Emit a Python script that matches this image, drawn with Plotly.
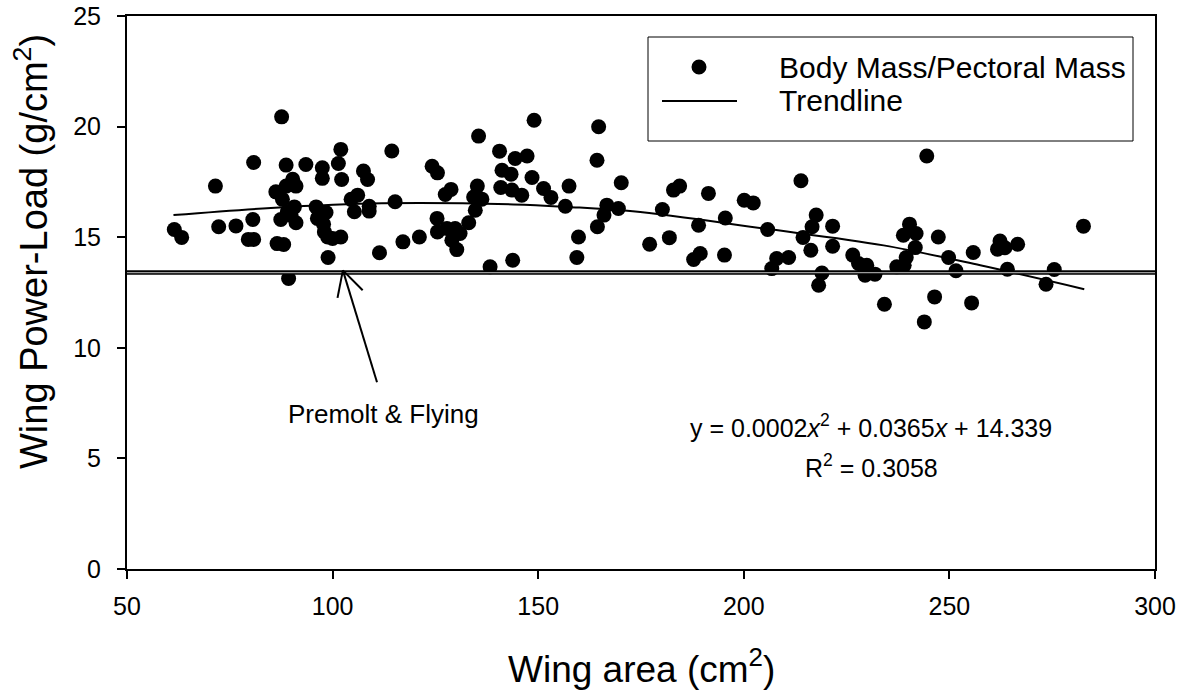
import math
import plotly.graph_objects as go

# ---- data ----
wing_area = [
    87.6, 80.8, 88.7, 93.5, 97.5, 102.0, 101.4, 97.5, 102.2, 107.5, 108.5, 71.5, 90.3, 91.1, 88.7,
    86.2, 87.8, 90.7, 104.5, 106.1, 105.3, 108.9, 108.9, 96.0, 98.4, 96.3, 89.0, 87.4, 91.1, 89.9,
    80.6, 61.5, 63.3, 72.3, 76.5, 79.5, 80.8, 86.5, 88.1, 98.0, 98.8, 100.0, 102.0, 98.9, 111.4,
    89.3, 97.8,
    114.4, 115.2, 117.1, 121.1, 124.2, 125.5, 127.4, 128.8, 125.4, 125.5, 127.8, 129.8, 131.0, 129.0,
    130.2, 133.1, 134.7, 134.3, 135.2, 136.3, 135.5, 138.3, 143.8, 140.6, 141.2, 143.4, 144.4, 147.3,
    148.5, 149.0, 140.9, 143.6, 146.0, 151.3, 153.1, 156.6, 157.5, 159.8, 159.4, 164.7, 164.3, 170.2,
    166.7, 166.0, 169.5, 164.4,
    184.4, 182.9, 191.4, 200.1, 202.3, 180.2, 189.0, 195.5, 205.8, 177.1, 181.9, 187.8, 189.4, 195.3,
    213.9, 217.6, 216.6, 214.4, 216.3, 221.6, 221.6, 206.8, 208.0, 210.9, 219.0, 218.2, 226.5, 227.9,
    229.9, 229.5, 231.9, 234.2,
    244.5, 240.3, 238.8, 241.9, 241.7, 239.5, 237.2, 239.0, 247.3, 249.8, 251.6, 255.8, 262.3, 261.7,
    263.5, 266.6, 264.1, 275.5, 273.5, 282.6, 246.4, 255.4, 243.9,
]
power_load = [
    20.44, 18.38, 18.26, 18.29, 18.14, 18.97, 18.33, 17.66, 17.61, 17.99, 17.61, 17.31, 17.62, 17.31, 17.31,
    17.05, 16.71, 16.37, 16.71, 16.90, 16.15, 16.40, 16.18, 16.37, 16.12, 15.85, 16.15, 15.80, 15.65, 16.00,
    15.80, 15.35, 14.99, 15.47, 15.51, 14.90, 14.90, 14.71, 14.67, 15.24, 15.01, 14.94, 15.01, 14.08, 14.30,
    13.13, 15.59,
    18.90, 16.60, 14.79, 15.01, 18.21, 17.91, 16.93, 17.16, 15.85, 15.24, 15.39, 15.39, 15.17, 14.86,
    14.44, 15.65, 16.22, 16.82, 17.31, 16.72, 19.57, 13.66, 13.96, 18.89, 18.03, 17.85, 18.56, 18.67,
    17.70, 20.29, 17.25, 17.13, 16.90, 17.20, 16.80, 16.40, 17.31, 15.01, 14.08, 19.99, 18.48, 17.46,
    16.45, 16.00, 16.30, 15.47,
    17.31, 17.13, 16.98, 16.67, 16.55, 16.25, 15.54, 15.87, 15.35, 14.68, 14.98, 13.99, 14.26, 14.19,
    17.55, 16.00, 15.47, 14.99, 14.41, 15.50, 14.59, 13.58, 14.04, 14.08, 13.38, 12.83, 14.19, 13.81,
    13.73, 13.28, 13.33, 11.97,
    18.67, 15.59, 15.09, 15.17, 14.53, 14.08, 13.66, 13.73, 15.01, 14.08, 13.48, 14.31, 14.83, 14.46,
    14.52, 14.68, 13.55, 13.54, 12.87, 15.50, 12.30, 12.03, 11.17,
]

trend_x = [61.3, 85.0, 112.0, 144.0, 157.0, 173.0, 205.0, 234.0, 257.5, 282.8]
trend_y = [16.00, 16.32, 16.53, 16.48, 16.37, 16.17, 15.39, 14.63, 13.73, 12.65]

premolt_level = 13.4
arrow_head = (102.5, 13.5)
arrow_tail = (110.8, 8.44)

x_ticks = [50, 100, 150, 200, 250, 300]
y_ticks = [0, 5, 10, 15, 20, 25]

series_names = ["Body Mass/Pectoral Mass", "Trendline"]
x_title = "Wing area (cm<sup>2</sup>)"
y_title = "Wing Power-Load (g/cm<sup>2</sup>)"
equation_text = "y = 0.0002<i>x</i><sup>2</sup> + 0.0365<i>x</i> + 14.339"
r2_text = "R<sup>2</sup> = 0.3058"
premolt_text = "Premolt &amp; Flying"

X_RANGE = [50, 300]
Y_RANGE = [0, 25]

W, H = 1185, 691
M_L, M_R, M_T, M_B = 127, 30, 16, 122
PW, PH = W - M_L - M_R, H - M_T - M_B

FONT = "Liberation Sans, Arial, Helvetica, sans-serif"


def paper_x(px):
    return (px - M_L) / PW


def paper_y(py):
    return (H - M_B - py) / PH


fig = go.Figure()

fig.add_trace(go.Scatter(
    x=wing_area, y=power_load, mode="markers", name=series_names[0],
    marker=dict(color="black", size=15, line=dict(width=0)),
    showlegend=False,
))
fig.add_trace(go.Scatter(
    x=trend_x, y=trend_y, mode="lines", name=series_names[1],
    line=dict(color="black", width=2, shape="spline", smoothing=1.0),
    showlegend=False,
))

# horizontal "Premolt & Flying" reference (double line)
fig.add_shape(type="line", xref="x", yref="y", x0=X_RANGE[0], x1=X_RANGE[1],
              y0=premolt_level, y1=premolt_level, line=dict(color="black", width=4.5))
fig.add_shape(type="line", xref="x", yref="y", x0=X_RANGE[0], x1=X_RANGE[1],
              y0=premolt_level, y1=premolt_level, line=dict(color="#9a9a9a", width=1.3))

# arrow with open head
px_x = PW / (X_RANGE[1] - X_RANGE[0])
px_y = PH / (Y_RANGE[1] - Y_RANGE[0])
hx, hy = arrow_head
tx, ty = arrow_tail
fig.add_shape(type="line", xref="x", yref="y", x0=tx, y0=ty, x1=hx, y1=hy,
              line=dict(color="black", width=2))
ang = math.atan2((ty - hy) * px_y, (tx - hx) * px_x)
arm = 28
for s in (-1, 1):
    a = ang + s * math.radians(28)
    fig.add_shape(type="line", xref="x", yref="y", x0=hx, y0=hy,
                  x1=hx + arm * math.cos(a) / px_x, y1=hy + arm * math.sin(a) / px_y,
                  line=dict(color="black", width=2))

fig.add_annotation(x=112.3, y=7.03, xref="x", yref="y", text=premolt_text,
                   xanchor="center", yanchor="middle",
                   showarrow=False, font=dict(size=26, color="black", family=FONT))
fig.add_annotation(x=231.0, y=6.45, xref="x", yref="y", text=equation_text,
                   xanchor="center", yanchor="middle",
                   showarrow=False, font=dict(size=25, color="black", family=FONT))
fig.add_annotation(x=231.0, y=4.65, xref="x", yref="y", text=r2_text,
                   xanchor="center", yanchor="middle",
                   showarrow=False, font=dict(size=25, color="black", family=FONT))

# axis titles
fig.add_annotation(x=paper_x(641), y=paper_y(666), xref="paper", yref="paper", text=x_title,
                   xanchor="center", yanchor="middle",
                   showarrow=False, font=dict(size=37, color="black", family=FONT))
fig.add_annotation(x=paper_x(31), y=paper_y(252), xref="paper", yref="paper", text=y_title,
                   xanchor="center", yanchor="middle",
                   textangle=-90, showarrow=False, font=dict(size=38, color="black", family=FONT))

# legend box (drawn manually to match the reference layout)
fig.add_shape(type="rect", xref="paper", yref="paper", layer="above",
              x0=paper_x(648), x1=paper_x(1133), y0=paper_y(141), y1=paper_y(37),
              line=dict(color="black", width=1), fillcolor="white")
fig.add_shape(type="circle", xref="paper", yref="paper", layer="above",
              xsizemode="pixel", ysizemode="pixel",
              xanchor=paper_x(699), yanchor=paper_y(67),
              x0=-7.5, x1=7.5, y0=-7.5, y1=7.5,
              line=dict(width=0), fillcolor="black")
fig.add_shape(type="line", xref="paper", yref="paper", layer="above",
              x0=paper_x(662), x1=paper_x(737), y0=paper_y(101), y1=paper_y(101),
              line=dict(color="black", width=2))
for name, py in zip(series_names, (67, 101)):
    fig.add_annotation(x=paper_x(777), y=paper_y(py), xref="paper", yref="paper",
                       xanchor="left", yanchor="middle", text=name, showarrow=False,
                       font=dict(size=30, color="black", family=FONT))

axis_common = dict(showgrid=False, zeroline=False, showline=True, linecolor="black",
                   linewidth=2, mirror=True, ticks="outside", ticklen=8, tickwidth=2,
                   tickcolor="black", automargin=False, ticklabeloverflow="allow",
                   tickfont=dict(size=25, color="black", family=FONT))

fig.update_layout(
    width=W, height=H,
    margin=dict(l=M_L, r=M_R, t=M_T, b=M_B, autoexpand=False),
    paper_bgcolor="white", plot_bgcolor="white",
    font=dict(family=FONT, color="black"),
    xaxis=dict(range=X_RANGE, tickvals=x_ticks, ticktext=[str(v) for v in x_ticks],
               ticklabelstandoff=6, **axis_common),
    yaxis=dict(range=Y_RANGE, tickvals=y_ticks, ticktext=[str(v) for v in y_ticks],
               ticklabelstandoff=11, **axis_common),
    showlegend=False,
)

# remove the default 8px page margin so the figure fills the window exactly
fig.write_html("out.html", config={"displayModeBar": False},
               post_script="document.body.style.margin='0';")
